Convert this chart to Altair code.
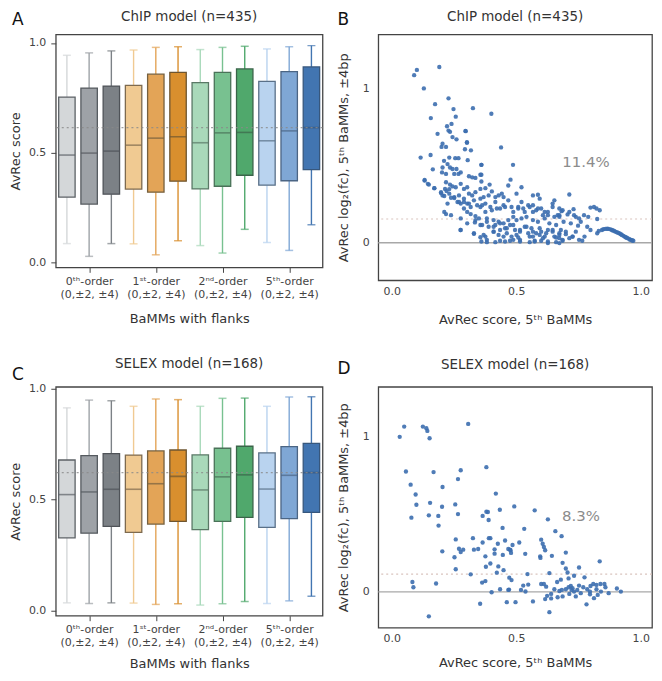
import json
import altair as alt
import pandas as pd

FONT = "DejaVu Sans"

# ---------------- box plot data ----------------
group_names = ["0th", "1st", "2nd", "5th"]
group_labels = [["0ᵗʰ-order", "(0,±2, ±4)"], ["1ˢᵗ-order", "(0,±2, ±4)"],
                ["2ⁿᵈ-order", "(0,±2, ±4)"], ["5ᵗʰ-order", "(0,±2, ±4)"]]
flanks = ["0", "±2", "±4"]

# ChIP model (n=435) — whisker low, Q1, median, Q3, whisker high
chip_lo = [0.087, 0.029, 0.087, 0.086, 0.036, 0.100, 0.078, 0.044, 0.152, 0.092, 0.056, 0.173]
chip_q1 = [0.299, 0.267, 0.312, 0.335, 0.321, 0.371, 0.336, 0.348, 0.398, 0.353, 0.373, 0.424]
chip_med = [0.490, 0.499, 0.508, 0.535, 0.567, 0.573, 0.546, 0.591, 0.593, 0.555, 0.600, 0.615]
chip_q3 = [0.754, 0.795, 0.804, 0.807, 0.858, 0.866, 0.820, 0.866, 0.882, 0.825, 0.870, 0.891]
chip_hi = [0.944, 0.955, 0.964, 0.968, 0.980, 0.983, 0.970, 0.980, 0.985, 0.973, 0.983, 0.988]
chip_ref = 0.615

# SELEX model (n=168)
selex_lo = [0.034, 0.031, 0.034, 0.033, 0.027, 0.030, 0.024, 0.030, 0.040, 0.031, 0.043, 0.064]
selex_q1 = [0.327, 0.348, 0.379, 0.352, 0.389, 0.401, 0.364, 0.401, 0.419, 0.374, 0.414, 0.442]
selex_med = [0.522, 0.534, 0.546, 0.546, 0.571, 0.604, 0.543, 0.602, 0.611, 0.547, 0.609, 0.621]
selex_q3 = [0.678, 0.698, 0.707, 0.700, 0.719, 0.723, 0.701, 0.731, 0.740, 0.710, 0.738, 0.753]
selex_hi = [0.913, 0.948, 0.945, 0.920, 0.953, 0.950, 0.920, 0.956, 0.957, 0.920, 0.962, 0.963]
selex_ref = 0.621

box_fills = ["#d4d7d9", "#9ea2a7", "#7c8186",
             "#f0ca92", "#e3a457", "#d98f2e",
             "#a9d9ba", "#78c190", "#50a86c",
             "#b9d3ef", "#7fa7d5", "#4275b1"]
box_edges = ["#5c6166", "#555a5f", "#4f5358",
             "#7d6a4f", "#75603f", "#6e5530",
             "#5a7866", "#4a7258", "#3a6449",
             "#5a7088", "#4b6584", "#37577d"]

# ---------------- scatter data ----------------
chip_x = [0.101, 0.090, 0.191, 0.129, 0.174, 0.228, 0.248, 0.326, 0.157, 0.257, 0.222, 0.240, 0.228, 0.234,
          0.184, 0.297, 0.244, 0.260, 0.204, 0.200, 0.218, 0.302, 0.294, 0.318, 0.116, 0.156, 0.231, 0.255,
          0.268, 0.210, 0.305, 0.360, 0.165, 0.204, 0.224, 0.234, 0.244, 0.260, 0.202, 0.218, 0.251, 0.268,
          0.277, 0.310, 0.323, 0.336, 0.356, 0.132, 0.149, 0.171, 0.218, 0.234, 0.244, 0.231, 0.214, 0.198,
          0.204, 0.220, 0.257, 0.277, 0.290, 0.303, 0.310, 0.323, 0.336, 0.356, 0.270, 0.251, 0.238, 0.224,
          0.264, 0.277, 0.290, 0.303, 0.317, 0.290, 0.303, 0.317, 0.336, 0.350, 0.356, 0.218, 0.334, 0.276,
          0.330, 0.356, 0.296, 0.302,
          0.400, 0.439, 0.360, 0.487, 0.360, 0.360, 0.376, 0.393, 0.402, 0.389, 0.369, 0.416, 0.429, 0.442,
          0.449, 0.477, 0.468, 0.521, 0.501, 0.521, 0.567, 0.587, 0.594, 0.653, 0.646, 0.673, 0.363, 0.376,
          0.402, 0.422, 0.455, 0.481, 0.508, 0.534, 0.554, 0.567, 0.580, 0.600, 0.614, 0.627, 0.653, 0.673,
          0.382, 0.409, 0.429, 0.449, 0.468, 0.488, 0.501, 0.521, 0.541, 0.567, 0.587, 0.614, 0.633, 0.660,
          0.363, 0.389, 0.416, 0.435, 0.455, 0.475, 0.495, 0.515, 0.534, 0.561, 0.580, 0.600, 0.627, 0.646,
          0.673, 0.376, 0.409, 0.429, 0.462, 0.481, 0.508, 0.548, 0.567, 0.594, 0.614, 0.653, 0.673, 0.360,
          0.382, 0.416, 0.455, 0.475, 0.488, 0.515, 0.554, 0.574, 0.600, 0.627, 0.660,
          0.713, 0.798, 0.812, 0.822, 0.835, 0.682, 0.706, 0.730, 0.739, 0.772, 0.789, 0.825, 0.673, 0.690,
          0.719, 0.748, 0.759, 0.785, 0.798, 0.825, 0.831, 0.679, 0.699, 0.726, 0.752, 0.765, 0.686, 0.673,
          0.713, 0.739, 0.774,
          0.844, 0.850, 0.858, 0.865, 0.871, 0.878, 0.884, 0.888, 0.893, 0.898, 0.904, 0.910, 0.915, 0.920,
          0.924, 0.930, 0.935, 0.939, 0.943, 0.947, 0.954, 0.958, 0.963, 0.966, 0.970,
          0.132, 0.145, 0.171, 0.198, 0.211, 0.231, 0.251, 0.270, 0.290, 0.310, 0.330, 0.343, 0.356, 0.376,
          0.396, 0.416, 0.435, 0.449, 0.468, 0.488, 0.508, 0.528, 0.548, 0.567, 0.587, 0.607, 0.627, 0.646,
          0.666, 0.686, 0.713, 0.732, 0.752, 0.211, 0.238, 0.277, 0.303, 0.336, 0.356, 0.382, 0.409, 0.435,
          0.462, 0.488, 0.515, 0.541, 0.567, 0.594, 0.620, 0.646, 0.673, 0.699, 0.726, 0.277, 0.330, 0.369,
          0.409, 0.449, 0.501, 0.554, 0.607, 0.660, 0.382, 0.435, 0.515, 0.574, 0.627, 0.686]
chip_y = [1.120, 1.086, 1.139, 1.000, 0.898, 0.936, 0.866, 0.872, 0.808, 0.817, 0.755, 0.770, 0.727, 0.719,
          0.706, 0.723, 0.685, 0.670, 0.642, 0.621, 0.621, 0.648, 0.606, 0.599, 0.552, 0.569, 0.552, 0.548,
          0.548, 0.531, 0.535, 0.505, 0.476, 0.488, 0.510, 0.488, 0.478, 0.478, 0.456, 0.446, 0.446, 0.446,
          0.456, 0.431, 0.424, 0.420, 0.441, 0.407, 0.377, 0.354, 0.392, 0.377, 0.365, 0.348, 0.349, 0.322,
          0.307, 0.335, 0.360, 0.382, 0.349, 0.360, 0.318, 0.307, 0.328, 0.349, 0.307, 0.296, 0.292, 0.254,
          0.264, 0.254, 0.264, 0.254, 0.232, 0.222, 0.200, 0.186, 0.173, 0.158, 0.232, 0.186, 0.132, 0.083,
          0.058, 0.036, 0.725, 0.652,
          0.836, 0.618, 0.505, 0.505, 0.441, 0.397, 0.354, 0.377, 0.333, 0.307, 0.296, 0.296, 0.307, 0.318,
          0.296, 0.409, 0.371, 0.360, 0.318, 0.264, 0.307, 0.311, 0.286, 0.275, 0.254, 0.222, 0.243, 0.200,
          0.211, 0.222, 0.232, 0.232, 0.222, 0.200, 0.232, 0.243, 0.211, 0.222, 0.200, 0.179, 0.168, 0.179,
          0.158, 0.147, 0.136, 0.126, 0.147, 0.168, 0.147, 0.158, 0.168, 0.147, 0.136, 0.158, 0.126, 0.115,
          0.115, 0.104, 0.115, 0.083, 0.094, 0.115, 0.083, 0.072, 0.104, 0.094, 0.062, 0.072, 0.083, 0.072,
          0.062, 0.040, 0.072, 0.051, 0.062, 0.040, 0.034, 0.062, 0.040, 0.051, 0.040, 0.040, 0.030, 0.008,
          0.004, 0.004, 0.008, 0.013, 0.019, 0.008, 0.004, 0.008, 0.013, -0.002, 0.004,
          0.313, 0.228, 0.232, 0.222, 0.211, 0.205, 0.184, 0.218, 0.168, 0.179, 0.168, 0.154, 0.168, 0.136,
          0.126, 0.111, 0.136, 0.104, 0.083, 0.062, 0.077, 0.083, 0.056, 0.040, 0.019, 0.013, 0.019, -0.002,
          0.030, 0.072, 0.040,
          0.083, 0.088, 0.090, 0.091, 0.090, 0.087, 0.083, 0.080, 0.077, 0.072, 0.068, 0.064, 0.060, 0.055,
          0.051, 0.045, 0.040, 0.036, 0.033, 0.030, 0.023, 0.020, 0.017, 0.015, 0.013,
          0.403, 0.382, 0.354, 0.328, 0.303, 0.318, 0.290, 0.264, 0.286, 0.254, 0.275, 0.243, 0.286, 0.254,
          0.232, 0.264, 0.222, 0.243, 0.275, 0.200, 0.232, 0.222, 0.243, 0.200, 0.222, 0.179, 0.200, 0.232,
          0.179, 0.211, 0.200, 0.179, 0.158, 0.200, 0.179, 0.158, 0.126, 0.147, 0.115, 0.136, 0.104, 0.126,
          0.094, 0.115, 0.083, 0.104, 0.072, 0.094, 0.062, 0.083, 0.051, 0.072, 0.040, 0.083, 0.062, 0.051,
          0.072, 0.040, 0.051, 0.040, 0.030, 0.034, 0.019, 0.013, 0.019, 0.013, 0.008, 0.013]
chip_ref_fc = 0.154
chip_pct = "11.4%"

selex_x = [0.050, 0.032, 0.125, 0.139, 0.143, 0.152, 0.307, 0.057, 0.168, 0.277, 0.266, 0.380, 0.076,
           0.204, 0.096, 0.099, 0.154, 0.255, 0.202, 0.418, 0.079, 0.149, 0.187, 0.188, 0.266, 0.365,
           0.380, 0.386, 0.389, 0.434, 0.445, 0.257, 0.326, 0.365, 0.390, 0.396, 0.426, 0.455, 0.203,
           0.270, 0.277, 0.287, 0.330, 0.347, 0.252, 0.376, 0.413, 0.413, 0.446, 0.468, 0.477, 0.257,
           0.396, 0.378, 0.428, 0.449, 0.422, 0.317, 0.472, 0.481, 0.083, 0.087, 0.178, 0.363, 0.376,
           0.401, 0.435, 0.471, 0.462, 0.355, 0.149,
           0.492, 0.574, 0.627, 0.532, 0.657, 0.682, 0.512, 0.485, 0.475, 0.479, 0.600, 0.606, 0.611,
           0.616, 0.596, 0.597, 0.536, 0.643, 0.699, 0.835, 0.686, 0.699, 0.706, 0.752, 0.633, 0.545,
           0.732, 0.774, 0.710, 0.679, 0.664, 0.600, 0.611, 0.528, 0.548, 0.468, 0.519, 0.537, 0.620,
           0.653, 0.673, 0.683, 0.699, 0.710, 0.719, 0.726, 0.732, 0.745, 0.769, 0.785, 0.796, 0.809,
           0.822, 0.838, 0.854, 0.858, 0.871, 0.904, 0.920, 0.840, 0.827, 0.812, 0.782, 0.796, 0.759,
           0.739, 0.713, 0.686, 0.666, 0.640, 0.624, 0.616, 0.640, 0.567, 0.497, 0.822, 0.798, 0.752,
           0.722, 0.633]
selex_y = [1.064, 0.998, 1.064, 1.053, 1.036, 0.989, 1.081, 0.775, 0.771, 0.783, 0.726, 0.803, 0.690,
           0.675, 0.627, 0.561, 0.573, 0.563, 0.548, 0.633, 0.478, 0.493, 0.489, 0.427, 0.501, 0.489,
           0.516, 0.514, 0.463, 0.529, 0.412, 0.338, 0.346, 0.318, 0.346, 0.346, 0.310, 0.331, 0.261,
           0.278, 0.257, 0.272, 0.272, 0.276, 0.223, 0.229, 0.274, 0.246, 0.238, 0.276, 0.268, 0.146,
           0.183, 0.162, 0.164, 0.140, 0.124, 0.113, 0.092, 0.076, 0.064, 0.030, 0.054, 0.060, 0.070,
           -0.002, 0.017, 0.015, -0.066, -0.076, -0.157,
           0.550, 0.525, 0.467, 0.406, 0.391, 0.359, 0.318, 0.302, 0.272, 0.251, 0.336, 0.310, 0.289,
           0.268, 0.229, 0.219, 0.245, 0.232, 0.253, 0.197, 0.187, 0.151, 0.125, 0.157, 0.121, 0.115,
           0.104, 0.094, 0.087, 0.079, 0.064, 0.051, 0.051, 0.041, 0.047, 0.013, 0.013, 0.003, 0.034,
           0.017, 0.006, 0.013, 0.017, 0.030, 0.038, 0.024, 0.002, 0.013, 0.030, 0.017, 0.002, 0.051,
           0.045, 0.051, 0.051, 0.030, -0.008, 0.022, 0.002, 0.002, -0.019, -0.040, -0.080, -0.015, -0.008,
           -0.029, -0.013, -0.029, -0.034, -0.013, -0.025, -0.046, -0.042, -0.061, -0.066, 0.017, 0.038, 0.041,
           0.013, -0.130]
selex_ref_fc = 0.115
selex_pct = "8.3%"

# annotation positions (data units)
chip_pct_pos = (0.78, 0.525)
selex_pct_pos = (0.76, 0.49)

TITLE_COLOR = "#333333"
W_BOX, W_SC = 268, 275


def header_layers(title, letter, width, title_dy, letter_dy, letter_dx):
    t = alt.Chart(pd.DataFrame({"t": [title]})).mark_text(
        font=FONT, fontSize=13.5, color=TITLE_COLOR, align="center", baseline="middle"
    ).encode(text="t:N", x=alt.value(width / 2), y=alt.value(title_dy))
    l = alt.Chart(pd.DataFrame({"t": [letter]})).mark_text(
        font=FONT, fontSize=17, color="#111111", align="left", baseline="middle"
    ).encode(text="t:N", x=alt.value(letter_dx), y=alt.value(letter_dy))
    return [t, l]


def box_panel(lo, q1, med, q3, hi, ref, title, letter, ydom, h, tdy, ldy, xtitle_pad):
    rows = []
    for gi, g in enumerate(group_names):
        for fi, f in enumerate(flanks):
            k = gi * 3 + fi
            rows.append(dict(key=f"{g} {f}", pos=gi + (fi - 1) / 3.0,
                             lo=lo[k], q1=q1[k], med=med[k], q3=q3[k], hi=hi[k]))
    df = pd.DataFrame(rows)
    keys = list(df["key"])
    label_expr = json.dumps(group_labels, ensure_ascii=False) + "[datum.value]"
    x = alt.X("pos:Q", scale=alt.Scale(domain=[-0.5, 3.5], nice=False, zero=False, padding=0),
              axis=alt.Axis(values=[0, 1, 2, 3], labelExpr=label_expr, title="BaMMs with flanks",
                            grid=False, labelFontSize=11, titlePadding=xtitle_pad, labelPadding=3,
                            labelLineHeight=13))
    yscale = alt.Scale(domain=ydom, nice=False, zero=False)
    yax = alt.Axis(values=[0, 0.5, 1.0], format=".1f", title="AvRec score", grid=False,
                   labelFontSize=11, labelPadding=5, titlePadding=6)
    fill_scale = alt.Scale(domain=keys, range=box_fills)
    edge_scale = alt.Scale(domain=keys, range=box_edges)
    base = alt.Chart(df)
    wl = base.mark_rule(strokeWidth=1.4).encode(
        x=x, y=alt.Y("lo:Q", scale=yscale, axis=yax), y2="q1:Q",
        color=alt.Color("key:N", scale=fill_scale, legend=None))
    wh = base.mark_rule(strokeWidth=1.4).encode(
        x=x, y=alt.Y("q3:Q", scale=yscale, axis=yax), y2="hi:Q",
        color=alt.Color("key:N", scale=fill_scale, legend=None))
    cap_lo = base.mark_tick(orient="horizontal", size=8, thickness=1.5).encode(
        x=x, y=alt.Y("lo:Q", scale=yscale, axis=yax),
        color=alt.Color("key:N", scale=fill_scale, legend=None))
    cap_hi = base.mark_tick(orient="horizontal", size=8, thickness=1.5).encode(
        x=x, y=alt.Y("hi:Q", scale=yscale, axis=yax),
        color=alt.Color("key:N", scale=fill_scale, legend=None))
    box = base.mark_bar(size=16.5, strokeWidth=1.3).encode(
        x=x, y=alt.Y("q1:Q", scale=yscale, axis=yax), y2="q3:Q",
        fill=alt.Fill("key:N", scale=fill_scale, legend=None),
        stroke=alt.Stroke("key:N", scale=edge_scale, legend=None))
    median = base.mark_tick(orient="horizontal", size=16.5, thickness=1.6).encode(
        x=x, y=alt.Y("med:Q", scale=yscale, axis=yax),
        color=alt.Color("key:N", scale=edge_scale, legend=None))
    refline = alt.Chart(pd.DataFrame({"r": [ref]})).mark_rule(
        strokeDash=[2, 3], strokeWidth=1.3, color="#8a8a8a", opacity=0.8
    ).encode(y=alt.Y("r:Q", scale=yscale, axis=yax))
    layers = [wl, wh, cap_lo, cap_hi, box, median, refline] + header_layers(
        title, letter, W_BOX, tdy, ldy, -44)
    return alt.layer(*layers).resolve_scale(color="independent").properties(width=W_BOX, height=h)


def scatter_panel(xs, ys, ref, pct, pct_pos, title, letter, ydom, h, tdy, ldy, xtitle_pad):
    df = pd.DataFrame({"x": xs, "y": ys})
    xscale = alt.Scale(domain=[-0.054, 1.045], nice=False, zero=False)
    yscale = alt.Scale(domain=ydom, nice=False, zero=False)
    xax = alt.Axis(values=[0, 0.5, 1.0], format=".1f", title="AvRec score, 5ᵗʰ BaMMs",
                   grid=False, labelFontSize=11, labelPadding=5, titlePadding=xtitle_pad, tickSize=0)
    yax = alt.Axis(values=[0, 1], format="d", title="AvRec log₂(fc), 5ᵗʰ BaMMs, ±4bp",
                   grid=False, labelFontSize=11, labelPadding=9, titlePadding=12, tickSize=0)
    zero = alt.Chart(pd.DataFrame({"z": [0.0]})).mark_rule(color="#a8a8a8", strokeWidth=1.4).encode(
        y=alt.Y("z:Q", scale=yscale, axis=yax))
    dotted = alt.Chart(pd.DataFrame({"r": [ref]})).mark_rule(
        color="#d9c3bd", strokeWidth=1.2, strokeDash=[2, 3]).encode(y=alt.Y("r:Q", scale=yscale, axis=yax))
    pts = alt.Chart(df).mark_circle(size=19, opacity=0.9, color="#3c6eaf").encode(
        x=alt.X("x:Q", scale=xscale, axis=xax), y=alt.Y("y:Q", scale=yscale, axis=yax))
    txt = alt.Chart(pd.DataFrame({"x": [pct_pos[0]], "y": [pct_pos[1]], "t": [pct]})).mark_text(
        font=FONT, fontSize=15, color="#8c8c8c").encode(
        x=alt.X("x:Q", scale=xscale, axis=xax), y=alt.Y("y:Q", scale=yscale, axis=yax), text="t:N")
    layers = [zero, dotted, pts, txt] + header_layers(title, letter, W_SC, tdy, ldy, -41)
    return alt.layer(*layers).properties(width=W_SC, height=h)


A = box_panel(chip_lo, chip_q1, chip_med, chip_q3, chip_hi, chip_ref,
              "ChIP model (n=435)", "A", [-0.021, 1.039], 234, -17, -14, 13)
B = scatter_panel(chip_x, chip_y, chip_ref_fc, chip_pct, chip_pct_pos,
                  "ChIP model (n=435)", "B", [-0.243, 1.35], 247, -17, -14, 17)
C = box_panel(selex_lo, selex_q1, selex_med, selex_q3, selex_hi, selex_ref,
              "SELEX model (n=168)", "C", [-0.024, 1.008], 230, -23, -12, 10)
D = scatter_panel(selex_x, selex_y, selex_ref_fc, selex_pct, selex_pct_pos,
                  "SELEX model (n=168)", "D", [-0.23, 1.32], 242, -22, -18, 13)

chart = alt.vconcat(
    alt.hconcat(A, B, spacing=12),
    alt.hconcat(C, D, spacing=12),
    spacing=29,
).properties(padding=0).configure(font=FONT).configure_view(
    stroke="#444444", strokeWidth=1.3
).configure_axis(
    labelFont=FONT, titleFont=FONT, labelColor="#444444", titleColor=TITLE_COLOR,
    titleFontSize=13, titleFontWeight="normal", tickColor="#444444", domain=False, tickSize=5,
)

chart.save("out.html", embed_options={"renderer": "svg", "actions": False})
